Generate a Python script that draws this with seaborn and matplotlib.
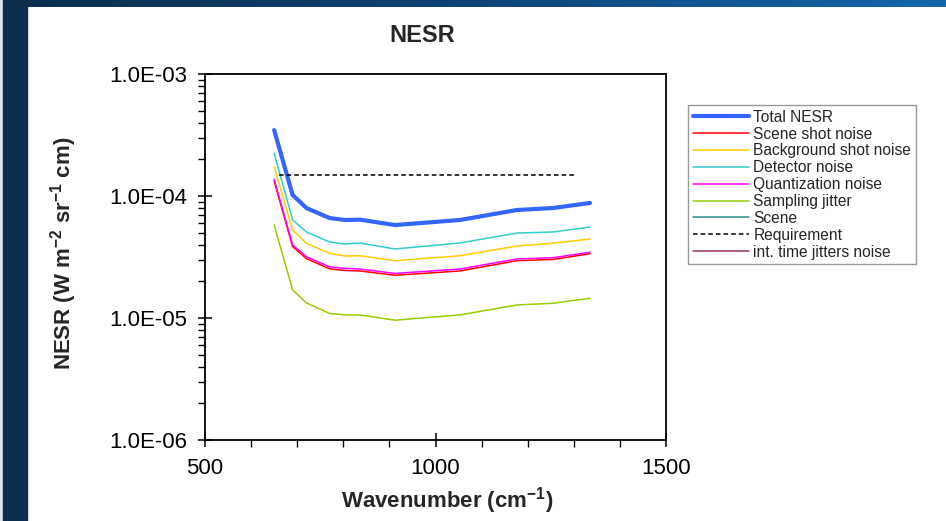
import numpy as np
import pandas as pd
import matplotlib
matplotlib.use("Agg")
import matplotlib.pyplot as plt
import seaborn as sns
from matplotlib.ticker import MultipleLocator, LogLocator, FuncFormatter, NullFormatter
from matplotlib.lines import Line2D
from matplotlib.patches import Rectangle
from matplotlib.colors import LinearSegmentedColormap

# ---------------- data ----------------
wavenumber = [650, 690, 720, 770, 804, 836, 912, 1053, 1177, 1255, 1335]
total_nesr = [3.47e-4, 1.02e-4, 7.97e-5, 6.6e-5, 6.36e-5, 6.4e-5, 5.78e-5, 6.36e-5, 7.68e-5, 7.97e-5, 8.77e-5]
detector_noise = [2.24e-4, 6.36e-5, 5.07e-5, 4.2e-5, 4.04e-5, 4.12e-5, 3.68e-5, 4.12e-5, 4.97e-5, 5.07e-5, 5.57e-5]
background_shot = [1.74e-4, 5.26e-5, 4.1e-5, 3.39e-5, 3.22e-5, 3.24e-5, 2.95e-5, 3.24e-5, 3.89e-5, 4.1e-5, 4.44e-5]
quantization_noise = [1.37e-4, 3.97e-5, 3.18e-5, 2.63e-5, 2.55e-5, 2.52e-5, 2.32e-5, 2.52e-5, 3.05e-5, 3.12e-5, 3.46e-5]
scene_shot = [1.33e-4, 3.85e-5, 3.07e-5, 2.53e-5, 2.45e-5, 2.43e-5, 2.24e-5, 2.43e-5, 2.95e-5, 3.02e-5, 3.36e-5]
sampling_jitter = [5.78e-5, 1.70e-5, 1.33e-5, 1.09e-5, 1.06e-5, 1.06e-5, 9.6e-6, 1.06e-5, 1.28e-5, 1.32e-5, 1.45e-5]
scene = []            # not visible in the chart range
int_time_jitter = []  # not visible in the chart range
req_wavenumber = [660, 1303]
requirement = [1.5e-4, 1.5e-4]

y_ticks = [1e-6, 1e-5, 1e-4, 1e-3]
x_ticks = [500, 1000, 1500]

# ---------------- style ----------------
sns.set_style("ticks")
plt.rcParams["font.family"] = ["Liberation Sans", "DejaVu Sans"]
plt.rcParams["mathtext.fontset"] = "custom"
plt.rcParams["mathtext.rm"] = "Liberation Sans"
plt.rcParams["mathtext.bf"] = "Liberation Sans:bold"
plt.rcParams["mathtext.default"] = "bf"

W, H = 946, 521
fig = plt.figure(figsize=(W / 100, H / 100), dpi=100)
fig.patch.set_facecolor("white")

# slide decoration: left dark bar and top gradient bar
fig.patches.append(Rectangle((0, 0), 3 / W, 1, transform=fig.transFigure, color="#dfe3f0", zorder=0))
fig.patches.append(Rectangle((3 / W, 0), 24 / W, 1, transform=fig.transFigure, color="#0b2d4d", zorder=0))
gax = fig.add_axes([0, 1 - 7 / H, 1, 7 / H])
grad = np.linspace(0, 1, 256).reshape(1, -1)
cmap = LinearSegmentedColormap.from_list("bar", ["#0b2d4d", "#0e4577", "#1467ad"])
gax.imshow(grad, aspect="auto", cmap=cmap)
gax.axis("off")

ax = fig.add_axes([205 / W, 1 - 440 / H, 461 / W, 366 / H])

series = [
    ("Total NESR", wavenumber, total_nesr, "#3366ff", 3.0, "-"),
    ("Scene shot noise", wavenumber, scene_shot, "#ff0000", 1.1, "-"),
    ("Background shot noise", wavenumber, background_shot, "#ffcc00", 1.1, "-"),
    ("Detector noise", wavenumber, detector_noise, "#33cccc", 1.1, "-"),
    ("Quantization noise", wavenumber, quantization_noise, "#ff00ff", 1.1, "-"),
    ("Sampling jitter", wavenumber, sampling_jitter, "#99cc00", 1.1, "-"),
    ("Scene", [], scene, "#2e8b8b", 1.1, "-"),
    ("Requirement", req_wavenumber, requirement, "black", 1.1, (0, (3, 2))),
    ("int. time jitters noise", [], int_time_jitter, "#993366", 1.1, "-"),
]

draw_order = [5, 3, 2, 1, 4, 0, 7]
for i in draw_order:
    name, xs, ys, c, lw, ls = series[i]
    sns.lineplot(x=xs, y=ys, ax=ax, color=c, linewidth=lw, linestyle=ls,
                 sort=False, estimator=None, legend=False)

handles = [Line2D([], [], color=c, lw=lw, linestyle=ls) for (_, _, _, c, lw, ls) in series]
labels = [s[0] for s in series]

ax.set_yscale("log")
ax.set_xlim(500, 1500)
ax.set_ylim(1e-6, 1e-3)
ax.set_xticks(x_ticks)
ax.set_yticks(y_ticks)
ax.yaxis.set_major_formatter(FuncFormatter(lambda v, p: "%.1E" % v))
ax.xaxis.set_minor_locator(MultipleLocator(100))
ax.yaxis.set_minor_locator(LogLocator(base=10, subs=np.arange(2, 10)))
ax.yaxis.set_minor_formatter(NullFormatter())

for sp in ax.spines.values():
    sp.set_color("black")
    sp.set_linewidth(1.3)
ax.tick_params(axis="both", which="major", direction="inout", length=10, width=1.1,
               labelsize=16, colors="black")
ax.tick_params(axis="both", which="minor", direction="out", length=5, width=1.0, colors="black")
ax.tick_params(axis="x", which="major", pad=8)
ax.tick_params(axis="y", which="major", pad=8)

ax.set_xlabel("Wavenumber (cm$^{-1}$)", fontsize=16, fontweight="bold")
ax.xaxis.set_label_coords(0.525, -0.122)
ax.set_ylabel("NESR (W m$^{-2}$ sr$^{-1}$ cm)", fontsize=16, fontweight="bold")
ax.yaxis.set_label_coords((79 - 205) / 461, 0.51)

fig.text(422 / W, 1 - 35 / H, "NESR", fontsize=17, fontweight="bold", ha="center", va="center")

leg = fig.legend(handles, labels, loc="upper left", bbox_to_anchor=(688 / W, 1 - 105 / H),
                 bbox_transform=fig.transFigure, fontsize=11.2, frameon=True, fancybox=False,
                 handlelength=3.6, handletextpad=0.3, labelspacing=0.12, borderpad=0.3,
                 borderaxespad=0)
leg.get_frame().set_edgecolor("#808080")
leg.get_frame().set_linewidth(1.0)

fig.savefig("out.png", dpi=100, facecolor="white")
